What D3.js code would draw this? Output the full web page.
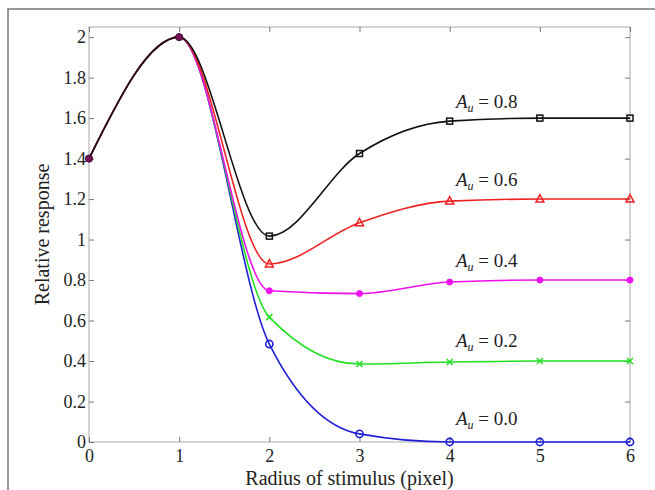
<!DOCTYPE html>
<html><head><meta charset="utf-8">
<script src="https://cdn.jsdelivr.net/npm/d3@7/dist/d3.min.js"></script>
<style>body{margin:0;background:#fff;}svg{display:block;}</style>
</head><body>
<svg id="c" width="655" height="490"></svg>
<script>
const xValues = [0, 1, 2, 3, 4, 5, 6];
const seriesNames = ["0.0", "0.2", "0.4", "0.6", "0.8"];
const au00 = [1.4, 2.0, 0.484, 0.04, 0.0, 0.0, 0.0];
const au02 = [1.4, 2.0, 0.617, 0.385, 0.395, 0.4, 0.4];
const au04 = [1.4, 2.0, 0.747, 0.733, 0.79, 0.8, 0.8];
const au06 = [1.4, 2.0, 0.879, 1.083, 1.19, 1.2, 1.2];
const au08 = [1.4, 2.0, 1.017, 1.425, 1.585, 1.6, 1.6];
const xTicks = [0, 1, 2, 3, 4, 5, 6];
const yTicks = [0, 0.2, 0.4, 0.6, 0.8, 1, 1.2, 1.4, 1.6, 1.8, 2];

const series = [
  {name: seriesNames[0], values: au00, color: "#1f1fd6", marker: "circle"},
  {name: seriesNames[1], values: au02, color: "#22e022", marker: "x"},
  {name: seriesNames[2], values: au04, color: "#ee11ee", marker: "dot"},
  {name: seriesNames[3], values: au06, color: "#ee2222", marker: "triangle"},
  {name: seriesNames[4], values: au08, color: "#111111", marker: "square"}
];

const svg = d3.select("#c");
const L = 89, R = 630, T = 27, B = 442;
const x = d3.scaleLinear().domain([0, 6]).range([L, R]);
const y = d3.scaleLinear().domain([0, 2.05]).range([B, T]);
const font = "Liberation Serif, Times New Roman, serif";

// outer frame
svg.append("path").attr("d", `M8,492 L8,9 L660,9`).attr("fill", "none")
  .attr("stroke", "#777").attr("stroke-width", 1.5);

// plot box
svg.append("rect").attr("x", L).attr("y", T).attr("width", R - L).attr("height", B - T)
  .attr("fill", "none").attr("stroke", "#aaa").attr("stroke-width", 1);

// axes
const xAxisB = d3.axisBottom(x).tickValues(xTicks).tickSize(-5).tickPadding(7).tickFormat(d3.format("d"));
const xAxisT = d3.axisTop(x).tickValues(xTicks).tickSize(-5).tickFormat("");
const yAxisL = d3.axisLeft(y).tickValues(yTicks).tickSize(-5).tickPadding(3).tickFormat(d => d3.format("")(d));
const yAxisR = d3.axisRight(y).tickValues(yTicks).tickSize(-5).tickFormat("");

function style(g) {
  g.select(".domain").remove();
  g.selectAll(".tick line").attr("stroke", "#777");
  g.selectAll(".tick text").style("font-family", font).style("font-size", "18px").attr("fill", "#222");
}
svg.append("g").attr("transform", `translate(0,${B})`).call(xAxisB).call(style);
svg.append("g").attr("transform", `translate(0,${T})`).call(xAxisT).call(style);
svg.append("g").attr("transform", `translate(${L},0)`).call(yAxisL).call(style);
svg.append("g").attr("transform", `translate(${R},0)`).call(yAxisR).call(style);

// axis titles
svg.append("text").attr("x", (L + R) / 2 - 10).attr("y", 485).attr("text-anchor", "middle")
  .style("font-family", font).style("font-size", "20px").attr("fill", "#222").text("Radius of stimulus (pixel)");
svg.append("text").attr("transform", `translate(49,${(T + B) / 2}) rotate(-90)`).attr("text-anchor", "middle")
  .style("font-family", font).style("font-size", "20px").attr("fill", "#222").text("Relative response");

// lines
const line = d3.line().x((d, i) => x(xValues[i])).y(d => y(d)).curve(d3.curveMonotoneX);
const gLines = svg.append("g");
series.forEach(s => {
  gLines.append("path").attr("d", line(s.values)).attr("fill", "none")
    .attr("stroke", s.color).attr("stroke-width", 1.6);
});

// markers (shared start points drawn once below)
const gMarks = svg.append("g");
series.forEach(s => {
  s.values.forEach((v, i) => {
    if (i < 2) return;
    const cx = x(xValues[i]), cy = y(v);
    if (s.marker === "circle") {
      gMarks.append("circle").attr("cx", cx).attr("cy", cy).attr("r", 3.6)
        .attr("fill", "none").attr("stroke", s.color).attr("stroke-width", 1.6);
    } else if (s.marker === "dot") {
      gMarks.append("circle").attr("cx", cx).attr("cy", cy).attr("r", 3)
        .attr("fill", s.color).attr("stroke", s.color).attr("stroke-width", 1);
    } else if (s.marker === "x") {
      gMarks.append("path").attr("d", `M${cx-3},${cy-3}L${cx+3},${cy+3}M${cx-3},${cy+3}L${cx+3},${cy-3}`)
        .attr("stroke", s.color).attr("stroke-width", 1.5);
    } else if (s.marker === "triangle") {
      gMarks.append("path").attr("d", `M${cx},${cy-4.5}L${cx+4},${cy+3}L${cx-4},${cy+3}Z`)
        .attr("fill", "none").attr("stroke", s.color).attr("stroke-width", 1.5);
    } else if (s.marker === "square") {
      gMarks.append("rect").attr("x", cx - 3).attr("y", cy - 3).attr("width", 6).attr("height", 6)
        .attr("fill", "none").attr("stroke", s.color).attr("stroke-width", 1.5);
    }
  });
});
// overlapping start markers appear as dark purple dots
[0, 1].forEach(i => {
  gMarks.append("circle").attr("cx", x(xValues[i])).attr("cy", y(au08[i])).attr("r", 3.6)
    .attr("fill", "#7a1050").attr("stroke", "#3a0a40").attr("stroke-width", 1);
});

// labels
const labelY = {"0.8": 1.65, "0.6": 1.265, "0.4": 0.865, "0.2": 0.47, "0.0": 0.085};
series.forEach(s => {
  const t = svg.append("text").attr("x", x(4.07)).attr("y", y(labelY[s.name]))
    .style("font-family", font).style("font-size", "19px").attr("fill", "#222");
  t.append("tspan").attr("font-style", "italic").text("A");
  t.append("tspan").attr("font-style", "italic").style("font-size", "12px").attr("dy", 4).text("u");
  t.append("tspan").attr("dy", -4).text(" = " + s.name);
});
</script>
</body></html>
